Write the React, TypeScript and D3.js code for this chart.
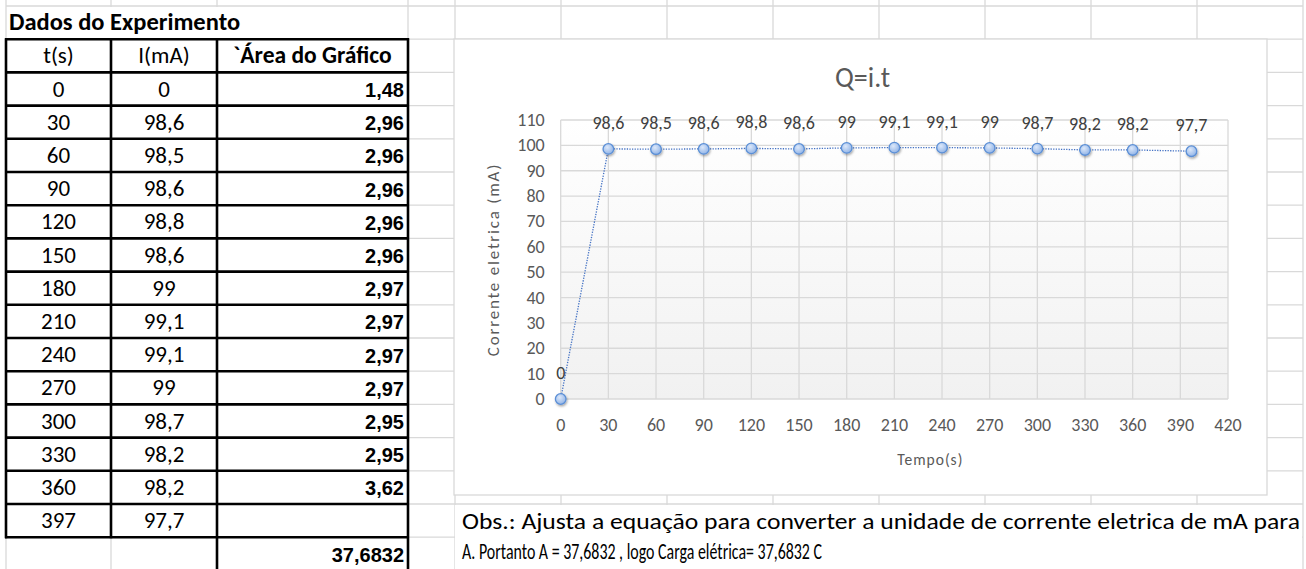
import React, { useEffect } from "react";
import * as d3 from "d3";

const times = [0, 30, 60, 90, 120, 150, 180, 210, 240, 270, 300, 330, 360, 397];
const currents = [0, 98.6, 98.5, 98.6, 98.8, 98.6, 99, 99.1, 99.1, 99, 98.7, 98.2, 98.2, 97.7];
const areas = [1.48, 2.96, 2.96, 2.96, 2.96, 2.96, 2.97, 2.97, 2.97, 2.97, 2.95, 2.95, 3.62];
const totalArea = 37.6832;
const xTicks = d3.range(0, 421, 30);
const yTicks = d3.range(0, 111, 10);
const tableTitle = "Dados do Experimento";
const headers = ["t(s)", "I(mA)", "`Área do Gráfico"];
const chartTitle = "Q=i.t";
const xTitle = "Tempo(s)";
const yTitle = "Corrente eletrica (mA)";
const note1 = "Obs.: Ajusta a equação para converter a unidade de corrente eletrica de mA para";
const note2 = "A. Portanto A = 37,6832  , logo Carga elétrica= 37,6832 C";

const W = 1306, H = 569;
const rowTop = 6, rowH = 33.2, nRows = 17;
const colX = [6, 111, 217, 408, 455, 561, 667, 773, 879, 985, 1091, 1197, 1303];
const rowY = (i: number) => rowTop + rowH * i;
const fmt = (v: number, d?: number) => (d === undefined ? String(v) : v.toFixed(d)).replace(".", ",");

const CAL = "Carlito, Lato, 'Open Sans', sans-serif";
const ARIAL = "'Liberation Sans', Arial, sans-serif";
const GRID = "#d9d9d9";

export default function App() {
  useEffect(() => {
    document.body.style.margin = "0";
  }, []);

  const chart = { x0: 454, y0: 39, x1: 1267, y1: 495 };
  const plot = { x0: 560.7, x1: 1228, y0: 120, y1: 399 };
  const x = d3.scaleLinear().domain([0, 420]).range([plot.x0, plot.x1]);
  const y = d3.scaleLinear().domain([0, 110]).range([plot.y1, plot.y0]);
  const line = d3
    .line<number>()
    .x((_, i) => x(times[i]))
    .y((d) => y(d));

  const hLines = d3.range(0, nRows + 1).map((i) => rowY(i));
  const cellBase = (i: number) => rowY(i) + rowH / 2 + 7.5;

  return (
    <svg width={W} height={H} style={{ display: "block", background: "#fff" }}>
      <defs>
        <linearGradient id="plotBg" x1="0" y1="0" x2="0" y2="1">
          <stop offset="0" stopColor="#ffffff" />
          <stop offset="1" stopColor="#f1f1f1" />
        </linearGradient>
        <radialGradient id="mk" cx="0.4" cy="0.35" r="0.7">
          <stop offset="0" stopColor="#dce8fa" />
          <stop offset="1" stopColor="#8db1e6" />
        </radialGradient>
        <filter id="sh" x="-50%" y="-50%" width="200%" height="200%">
          <feDropShadow dx="0.8" dy="1.5" stdDeviation="1.2" floodColor="#000" floodOpacity="0.35" />
        </filter>
      </defs>

      {/* spreadsheet gridlines */}
      <g stroke={GRID} strokeWidth={1.3}>
        {hLines.map((yy, i) => (
          <line key={"h" + i} x1={colX[0]} x2={colX[colX.length - 1]} y1={yy} y2={yy} />
        ))}
        {colX.map((xx, i) => (
          <line key={"v" + i} x1={xx} x2={xx} y1={0} y2={H} />
        ))}
      </g>

      {/* Dados row merged area */}
      <rect x={colX[0] + 1} y={rowY(0) + 1} width={colX[3] - colX[0] - 2} height={rowH - 1} fill="#fff" />
      <text x={9} y={cellBase(0)} fontFamily={CAL} fontWeight="bold" fontSize={24.5} fill="#000">
        {tableTitle}
      </text>

      {/* table borders */}
      <g stroke="#000" strokeWidth={2.6}>
        {d3.range(1, 17).map((i) => (
          <line key={"th" + i} x1={colX[0] - 1} x2={colX[3] + 1} y1={rowY(i)} y2={rowY(i)} />
        ))}
        {[0, 1].map((c) => (
          <line key={"tv" + c} x1={colX[c]} x2={colX[c]} y1={rowY(1) - 1} y2={rowY(16) + 1} />
        ))}
        {[2, 3].map((c) => (
          <line key={"tw" + c} x1={colX[c]} x2={colX[c]} y1={rowY(1) - 1} y2={H} />
        ))}
      </g>

      {/* headers */}
      <g fontFamily={CAL} fontSize={23} fill="#000" textAnchor="middle">
        <text x={(colX[0] + colX[1]) / 2} y={cellBase(1)}>{headers[0]}</text>
        <text x={(colX[1] + colX[2]) / 2} y={cellBase(1)}>{headers[1]}</text>
        <text x={(colX[2] + colX[3]) / 2} y={cellBase(1)} fontWeight="bold" fontSize={23.5}>{headers[2]}</text>
      </g>

      {/* table body */}
      <g fontFamily={CAL} fontSize={23} fill="#000">
        {times.map((t, i) => (
          <g key={"r" + i}>
            <text x={(colX[0] + colX[1]) / 2} y={cellBase(2 + i)} textAnchor="middle">{t}</text>
            <text x={(colX[1] + colX[2]) / 2} y={cellBase(2 + i)} textAnchor="middle">{fmt(currents[i])}</text>
          </g>
        ))}
      </g>
      <g fontFamily={ARIAL} fontSize={20} fontWeight="bold" fill="#000" textAnchor="end">
        {areas.map((a, i) => (
          <text key={"a" + i} x={colX[3] - 4} y={rowY(2 + i) + rowH / 2 + 8}>{fmt(a, 2)}</text>
        ))}
        <text x={colX[3] - 4} y={rowY(16) + rowH / 2 + 8}>{fmt(totalArea)}</text>
      </g>

      {/* chart box */}
      <rect x={chart.x0} y={chart.y0} width={chart.x1 - chart.x0} height={chart.y1 - chart.y0} fill="#fff" stroke={GRID} strokeWidth={1.3} />
      <text x={(chart.x0 + chart.x1) / 2 + 2} y={87} textAnchor="middle" fontFamily={CAL} fontWeight={300} fontSize={28} fill="#595959">
        {chartTitle}
      </text>

      {/* plot area */}
      <rect x={plot.x0} y={plot.y0} width={plot.x1 - plot.x0} height={plot.y1 - plot.y0} fill="url(#plotBg)" />
      <g stroke={GRID} strokeWidth={1.3}>
        {yTicks.map((v) => (
          <line key={"gy" + v} x1={plot.x0} x2={plot.x1} y1={y(v)} y2={y(v)} />
        ))}
        {xTicks.map((v) => (
          <line key={"gx" + v} x1={x(v)} x2={x(v)} y1={plot.y0} y2={plot.y1} />
        ))}
      </g>
      <g fontFamily={CAL} fontSize={18} fill="#595959">
        {yTicks.map((v) => (
          <text key={"ly" + v} x={plot.x0 - 16} y={y(v) + 6} textAnchor="end">{v}</text>
        ))}
        {xTicks.map((v) => (
          <text key={"lx" + v} x={x(v)} y={431} textAnchor="middle">{v}</text>
        ))}
        <text x={(plot.x0 + plot.x1) / 2 + 36} y={465} textAnchor="middle" fontSize={15.5} letterSpacing={1}>{xTitle}</text>
        <text
          transform={`translate(499,${(plot.y0 + plot.y1) / 2}) rotate(-90)`}
          textAnchor="middle"
          fontSize={17}
          letterSpacing={1.8}
        >
          {yTitle}
        </text>
      </g>

      {/* series */}
      <path d={line(currents) || ""} fill="none" stroke="#4472c4" strokeWidth={1.3} strokeDasharray="1.3 1.3" />
      <g filter="url(#sh)">
        {currents.map((c, i) => (
          <circle key={"m" + i} cx={x(times[i])} cy={y(c)} r={5.3} fill="url(#mk)" stroke="#5b8fd6" strokeWidth={1.3} />
        ))}
      </g>
      <g fontFamily={CAL} fontSize={18} fill="#404040" textAnchor="middle">
        {currents.map((c, i) => (
          <text key={"dl" + i} x={x(times[i])} y={y(c) - 20}>{fmt(c)}</text>
        ))}
      </g>

      {/* note merged cell */}
      <rect x={chart.x0 + 1} y={rowY(15) + 1} width={colX[12] - chart.x0 - 2} height={H - rowY(15)} fill="#fff" />
      <g fontFamily={CAL} fontSize={22} fill="#000">
        <text x={462} y={529} textLength={838} lengthAdjust="spacingAndGlyphs">{note1}</text>
        <text x={462} y={559} textLength={360} lengthAdjust="spacingAndGlyphs">{note2}</text>
      </g>
    </svg>
  );
}
